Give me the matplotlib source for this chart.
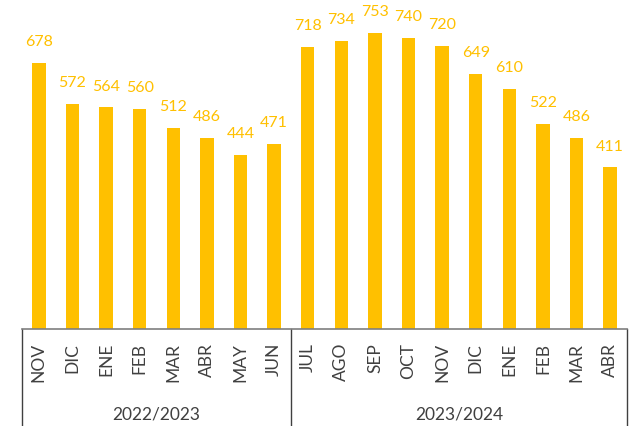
import numpy as np
import matplotlib.pyplot as plt
from matplotlib.transforms import blended_transform_factory

# data
months = ['NOV', 'DIC', 'ENE', 'FEB', 'MAR', 'ABR', 'MAY', 'JUN',
          'JUL', 'AGO', 'SEP', 'OCT', 'NOV', 'DIC', 'ENE', 'FEB', 'MAR', 'ABR']
values = [678, 572, 564, 560, 512, 486, 444, 471,
          718, 734, 753, 740, 720, 649, 610, 522, 486, 411]
groups = ['2022/2023', '2023/2024']
group_sizes = [8, 10]

bar_color = '#FFC000'
text_color = '#404040'

W, H = 637, 426
fig = plt.figure(figsize=(W / 100, H / 100), dpi=100)
left, right, base, top = 22, 627, 329, 10
ax = fig.add_axes([left / W, (H - base) / H, (right - left) / W, (base - top) / H])

x = np.arange(len(values))
ax.bar(x, values, width=0.4, color=bar_color)
ax.set_xlim(-0.5, len(values) - 0.5)
ax.set_ylim(0, (base - top) / 0.393)

for xi, v in zip(x, values):
    ax.annotate(str(v), (xi, v), xytext=(0, 15), textcoords='offset points',
                ha='center', va='center', color=bar_color, fontsize=11.5,
                family='Lato')

ax.set_xticks(x)
ax.set_xticklabels(months, rotation=90, fontsize=12.5, color=text_color,
                   family='Lato')
ax.tick_params(axis='x', length=0, pad=10)
ax.set_yticks([])

for s in ['left', 'right', 'top']:
    ax.spines[s].set_visible(False)
ax.spines['bottom'].set_color('#7f7f7f')
ax.spines['bottom'].set_linewidth(1.2)

# group separators and labels below the axis
trans = blended_transform_factory(ax.transData, ax.transAxes)
ah = base - top
edges = np.concatenate([[0], np.cumsum(group_sizes)]) - 0.5
for e in edges:
    ax.plot([e, e], [0, -(H - base) / ah], color=text_color, lw=1,
            transform=trans, clip_on=False)
for i, g in enumerate(groups):
    mid = (edges[i] + edges[i + 1]) / 2
    ax.text(mid, -(414 - base) / ah, g, transform=trans, ha='center',
            va='center', fontsize=12.5, color=text_color, family='Lato')

fig.savefig('out.png', dpi=100)
